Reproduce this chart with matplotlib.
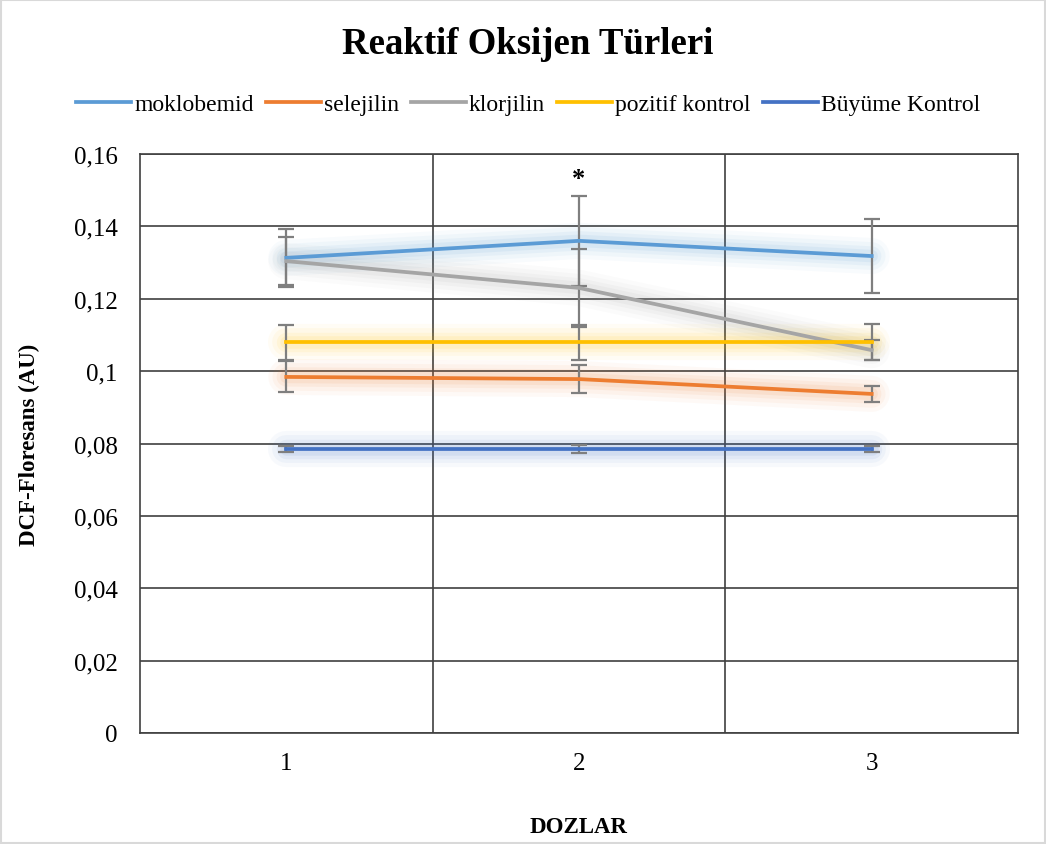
import matplotlib
matplotlib.use("Agg")
import matplotlib.pyplot as plt
import numpy as np

doses = [1, 2, 3]
series_names = ["moklobemid", "selejilin", "klorjilin", "pozitif kontrol", "Büyüme Kontrol"]
moklobemid = [0.1313, 0.1360, 0.1318]
selejilin = [0.0984, 0.0978, 0.0937]
klorjilin = [0.1304, 0.1230, 0.1058]
pozitif = [0.1080, 0.1080, 0.1080]
buyume = [0.0785, 0.0785, 0.0785]

moklobemid_err = [0.0080, 0.0125, 0.0102]
selejilin_err = [0.0043, 0.0038, 0.0023]
klorjilin_err = [0.0067, 0.0107, 0.0028]
pozitif_err = [0.0048, 0.0048, 0.0050]
buyume_err = [0.0009, 0.0010, 0.0009]

colors = ["#5b9bd5", "#ed7d31", "#a5a5a5", "#ffc000", "#4472c4"]
yticks = [0, 0.02, 0.04, 0.06, 0.08, 0.1, 0.12, 0.14, 0.16]
ytick_labels = ["0", "0,02", "0,04", "0,06", "0,08", "0,1", "0,12", "0,14", "0,16"]

plt.rcParams['font.family'] = ['Liberation Serif', 'DejaVu Serif']

fig = plt.figure(figsize=(10.46, 8.45), dpi=100)
ax = fig.add_axes([140/1046, 1-734/845, 878/1046, 579/845])

data = [moklobemid, selejilin, klorjilin, pozitif, buyume]
errs = [moklobemid_err, selejilin_err, klorjilin_err, pozitif_err, buyume_err]

# glow
for vals, c in zip(data, colors):
    for lw, a in [(26, 0.04), (20, 0.05), (14, 0.07), (9, 0.09)]:
        ax.plot(doses, vals, color=c, lw=lw, alpha=a, solid_capstyle='round', zorder=2)

handles = []
for vals, e, c, name in zip(data, errs, colors, series_names):
    ax.errorbar(doses, vals, yerr=e, fmt='none', ecolor='#7f7f7f', elinewidth=1.6,
                capsize=5.5, capthick=1.6, zorder=3)
    h, = ax.plot(doses, vals, color=c, lw=2.7, label=name, zorder=4)
    handles.append(h)

ax.text(2, 0.1532, "*", ha='center', va='center', fontsize=19, fontweight='bold')

ax.set_xlim(0.5, 3.5)
ax.set_ylim(0, 0.16)
ax.set_yticks(yticks)
ax.set_yticklabels(ytick_labels)
ax.set_xticks(doses)
ax.set_xticklabels([str(d) for d in doses])
ax.set_xticks([1.5, 2.5], minor=True)
ax.tick_params(axis='both', which='both', length=0, labelsize=18)
ax.tick_params(axis='y', pad=16)
ax.tick_params(axis='x', pad=14)
ax.grid(True, axis='y', color='#404040', lw=1.2, zorder=1)
ax.grid(True, axis='x', which='minor', color='#404040', lw=1.2, zorder=1)
for s in ax.spines.values():
    s.set_color('#404040')
    s.set_linewidth(1.2)

fig.text(528/1046, 1-45/845, "Reaktif Oksijen Türleri", ha='center', va='center',
         fontsize=26.5, fontweight='bold')
fig.text(578/1046, 1-828/845, "DOZLAR", ha='center', va='center', fontsize=16.5, fontweight='bold')
fig.text(29/1046, 1-445/845, "DCF-Floresans (AU)", ha='center', va='center', rotation=90,
         fontsize=16.5, fontweight='bold')

fig.legend(handles=handles, labels=series_names, loc='center', bbox_to_anchor=(528/1046, 1-105/845),
           ncol=5, frameon=False, fontsize=17, handlelength=2.35, handletextpad=0.12,
           columnspacing=0.5)

fig.patches.append(plt.Rectangle((0.001, 0.001), 0.998, 0.998, transform=fig.transFigure,
                                 fill=False, edgecolor='#d9d9d9', lw=1.5))

fig.savefig("out.png", dpi=100)
